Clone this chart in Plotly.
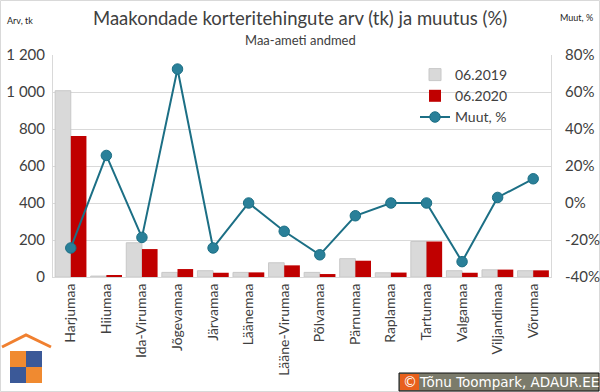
import plotly.graph_objects as go

categories = ["Harjumaa", "Hiiumaa", "Ida-Virumaa", "Jõgevamaa", "Järvamaa", "Läänemaa",
              "Lääne-Virumaa", "Põlvamaa", "Pärnumaa", "Raplamaa", "Tartumaa", "Valgamaa",
              "Viljandimaa", "Võrumaa"]
v2019 = [1007, 5, 185, 25, 34, 25, 77, 25, 99, 23, 192, 34, 39, 34]
v2020 = [762, 6, 151, 43, 23, 25, 63, 16, 88, 24, 192, 23, 40, 36]
muut = [-24.3, 25.7, -18.6, 72.4, -24.3, 0.0, -15.3, -28.0, -6.9, 0.0, 0.0, -31.7, 3.0, 13.1]

left_ticks = [0, 200, 400, 600, 800, 1000, 1200]
left_ticktext = ["0", "200", "400", "600", "800", "1 000", "1 200"]
right_ticks = [-40, -20, 0, 20, 40, 60, 80]
right_ticktext = ["-40%", "-20%", "0%", "20%", "40%", "60%", "80%"]

W, H = 600, 392
L, R, T, B = 53, 49, 55, 115
pw, ph = W - L - R, H - T - B

def px(x):
    return (x - L) / pw

def py(y):
    return (H - B - y) / ph

FONT = "Lato, Open Sans, sans-serif"
TXT = "#404040"

fig = go.Figure()
fig.add_trace(go.Bar(x=categories, y=v2019, name="06.2019",
                     marker=dict(color="#d9d9d9", line=dict(color="#c8c8c8", width=1))))
fig.add_trace(go.Bar(x=categories, y=v2020, name="06.2020",
                     marker=dict(color="#c00000", line=dict(width=0))))
fig.add_trace(go.Scatter(x=categories, y=muut, name="Muut, %", yaxis="y2",
                         mode="lines+markers",
                         line=dict(color="#1c6f85", width=2),
                         marker=dict(color="#2a8099", size=10.5,
                                     line=dict(color="#1c6f85", width=1))))

shapes = []
# outer border
shapes.append(dict(type="rect", xref="paper", yref="paper",
                   x0=px(0.5), x1=px(W - 0.5), y0=py(0.5), y1=py(H - 0.5),
                   line=dict(color="#d9d9d9", width=1), fillcolor="rgba(0,0,0,0)", layer="below"))
# logo: roof
shapes.append(dict(type="path", xref="paper", yref="paper",
                   path=f"M {px(2)},{py(347)} L {px(26)},{py(335)} L {px(51)},{py(347)}",
                   line=dict(color="#f08030", width=3)))
# logo: puzzle squares
quads = [(10, 26, 351, 367, "#f08a30"), (26, 42, 351, 367, "#3b5998"),
         (10, 26, 367, 383, "#3b5998"), (26, 42, 367, 383, "#f08a30")]
for x0, x1, y0, y1, c in quads:
    shapes.append(dict(type="rect", xref="paper", yref="paper",
                       x0=px(x0), x1=px(x1), y0=py(y1), y1=py(y0),
                       line=dict(width=0), fillcolor=c))
# copyright box
shapes.append(dict(type="rect", xref="paper", yref="paper",
                   x0=px(399), x1=px(599), y0=py(391), y1=py(373),
                   line=dict(color="#111111", width=1), fillcolor="#7b7b6b"))
shapes.append(dict(type="rect", xref="paper", yref="paper",
                   x0=px(400), x1=px(419), y0=py(390), y1=py(374),
                   line=dict(width=0), fillcolor="#e8601c"))

annotations = [
    dict(text="Maakondade korteritehingute arv (tk) ja muutus (%)", x=px(300), y=py(18),
         xref="paper", yref="paper", showarrow=False, xanchor="center", yanchor="middle",
         font=dict(family=FONT, size=18.5, color=TXT)),
    dict(text="Maa-ameti andmed", x=px(300), y=py(40),
         xref="paper", yref="paper", showarrow=False, xanchor="center", yanchor="middle",
         font=dict(family=FONT, size=13, color=TXT)),
    dict(text="Arv, tk", x=px(5), y=py(20),
         xref="paper", yref="paper", showarrow=False, xanchor="left", yanchor="middle",
         font=dict(family=FONT, size=9, color="#222222")),
    dict(text="Muut, %", x=px(558), y=py(18),
         xref="paper", yref="paper", showarrow=False, xanchor="left", yanchor="middle",
         font=dict(family=FONT, size=9, color="#222222")),
    dict(text="©", x=px(409.5), y=py(382),
         xref="paper", yref="paper", showarrow=False, xanchor="center", yanchor="middle",
         font=dict(family="DejaVu Sans", size=14, color="white")),
    dict(text="Tõnu Toompark, ADAUR.EE", x=px(509), y=py(382),
         xref="paper", yref="paper", showarrow=False, xanchor="center", yanchor="middle",
         font=dict(family="DejaVu Sans", size=13.5, color="white")),
]

fig.update_layout(
    width=W, height=H,
    margin=dict(l=L, r=R, t=T, b=B, pad=0, autoexpand=False),
    paper_bgcolor="white", plot_bgcolor="white",
    barmode="group", bargap=0.12, bargroupgap=0.0,
    font=dict(family=FONT, color=TXT),
    showlegend=True,
    legend=dict(x=px(415), y=py(59), xanchor="left", yanchor="top",
                bgcolor="rgba(0,0,0,0)", font=dict(family=FONT, size=14, color=TXT),
                tracegroupgap=0, itemwidth=30),
    xaxis=dict(range=[-0.5, len(categories) - 0.5],
               tickangle=-90, tickfont=dict(family=FONT, size=14, color=TXT),
               showline=True, linecolor="#d9d9d9", ticks="", showgrid=False, automargin=False),
    yaxis=dict(range=[0, 1200], tickvals=left_ticks, ticktext=left_ticktext,
               tickfont=dict(family=FONT, size=15, color=TXT),
               showgrid=True, gridcolor="#d9d9d9", showline=True, linecolor="#d9d9d9",
               zeroline=False, ticks="", automargin=False, ticklabelstandoff=4),
    yaxis2=dict(range=[-40, 80], tickvals=right_ticks, ticktext=right_ticktext, overlaying="y",
                side="right", tickfont=dict(family=FONT, size=15, color=TXT),
                showgrid=False, showline=True, linecolor="#d9d9d9", zeroline=False, ticks="",
                automargin=False, ticklabelstandoff=10),
    shapes=shapes,
    annotations=annotations,
)

fig.write_html("out.html", config={"displayModeBar": False},
               post_script="document.body.style.margin='0';document.body.style.padding='0';document.body.style.overflow='hidden';")
